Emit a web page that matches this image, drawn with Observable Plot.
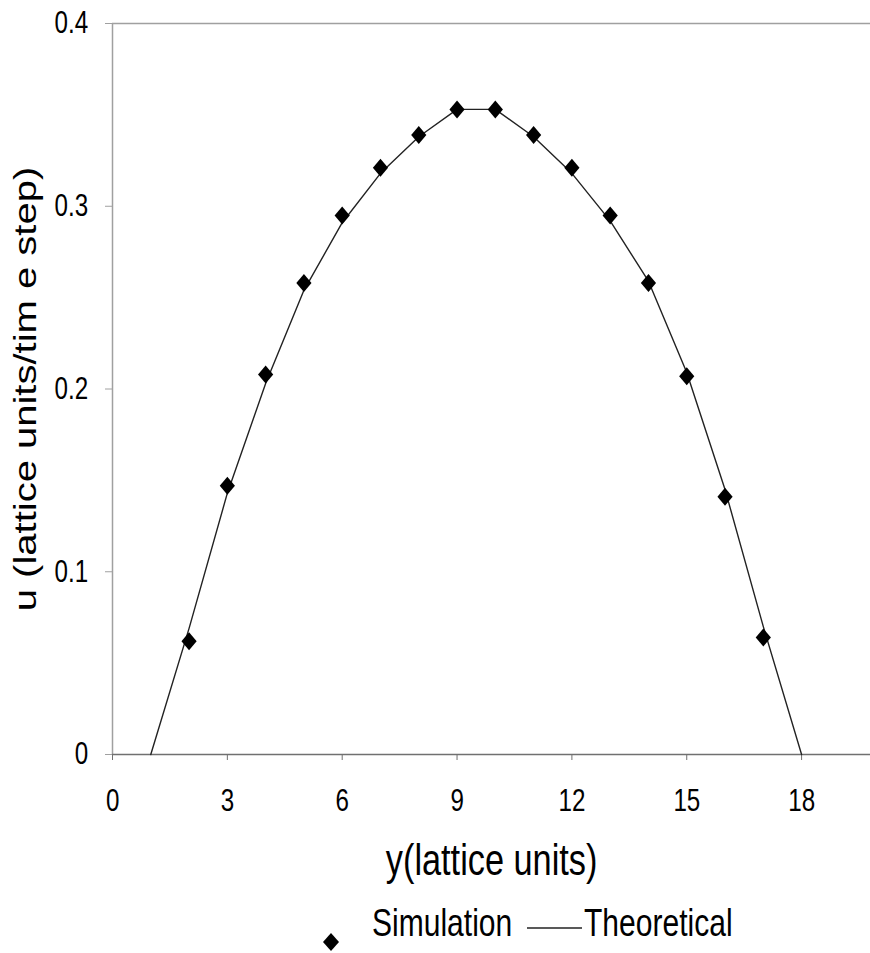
<!DOCTYPE html>
<html>
<head>
<meta charset="utf-8">
<script src="https://cdn.jsdelivr.net/npm/d3@7"></script>
<script src="https://cdn.jsdelivr.net/npm/@observablehq/plot@0.6"></script>
<style>
  html, body { margin: 0; padding: 0; background: #fff; }
  #wrap { position: relative; width: 870px; height: 953px; overflow: hidden; }
  .legend { position: absolute; top: 0; left: 0; width: 870px; height: 953px; pointer-events: none;
    font-family: "Liberation Sans", Arial, sans-serif; font-size: 39px; line-height: 1; color: #000; }
  .legend span { position: absolute; top: 903px; white-space: nowrap; transform: scaleX(0.77); transform-origin: 0 0; }
</style>
</head>
<body>
<div id="wrap"></div>
<script>
// Simulation points (lattice position, velocity)
const simY = [2, 3, 4, 5, 6, 7, 8, 9, 10, 11, 12, 13, 14, 15, 16, 17];
const simU = [0.062, 0.147, 0.208, 0.258, 0.295, 0.321, 0.339, 0.353, 0.353, 0.339, 0.321, 0.295, 0.258, 0.207, 0.141, 0.064];

// Theoretical profile
const theoY = [1, 2, 3, 4, 5, 6, 7, 8, 9, 10, 11, 12, 13, 14, 15, 16, 17, 18];
const theoU = [0, 0.069, 0.143, 0.203, 0.254, 0.291, 0.318, 0.338, 0.353, 0.353, 0.338, 0.318, 0.292, 0.259, 0.209, 0.145, 0.070, 0];

// Axis ticks
const xTicks = [0, 3, 6, 9, 12, 15, 18];
const yTicks = [0, 0.1, 0.2, 0.3, 0.4];
const xDomain = [0, 19.8];
const yDomain = [0, 0.4];

const xTitle = "y(lattice units)";
const yTitle = "u (lattice units/tim e step)";
const legendLabels = ["Simulation", "Theoretical"];

const sim = simY.map((y, i) => ({y, u: simU[i]}));
const theo = theoY.map((y, i) => ({y, u: theoU[i]}));

const font = '"Liberation Sans", Arial, sans-serif';

// diamond slightly taller than wide
const tallDiamond = {
  draw(ctx, size) {
    const k = Math.sqrt(size) / 12.76;
    const w = 7.6 * k, h = 9 * k;
    ctx.moveTo(0, -h); ctx.lineTo(w, 0); ctx.lineTo(0, h); ctx.lineTo(-w, 0); ctx.closePath();
  }
};

const chart = Plot.plot({
  width: 870,
  height: 953,
  marginLeft: 112,
  marginRight: 0,
  marginTop: 23,
  marginBottom: 199,
  style: { fontFamily: font, background: "#fff", color: "#000" },
  x: { domain: xDomain },
  y: { domain: yDomain },
  marks: [
    Plot.ruleY([yDomain[1]], { stroke: "#a0a0a0", strokeWidth: 1.5 }),
    Plot.ruleX([xDomain[0]], { stroke: "#a0a0a0", strokeWidth: 1.5 }),
    Plot.ruleY([yDomain[0]], { stroke: "#707070", strokeWidth: 1.5 }),
    Plot.axisX({ ticks: xTicks, tickSize: 6, tickPadding: 28, fontSize: 31, label: null, stroke: "#707070", tickFormat: d => String(d) }),
    Plot.axisY({ ticks: yTicks, tickSize: 7, tickPadding: 13, fontSize: 31, label: null, stroke: "#a0a0a0", tickFormat: d => d === 0 ? "0" : d.toFixed(1) }),
    Plot.line(theo, { x: "y", y: "u", stroke: "#222", strokeWidth: 1.4 }),
    Plot.dot(sim, { x: "y", y: "u", symbol: tallDiamond, r: 7.2, fill: "#000", stroke: "none" }),
    Plot.text([xTitle], { frameAnchor: "bottom", dy: 120, fontSize: 44, textAnchor: "middle", fill: "#000" }),
    Plot.text([yTitle], { frameAnchor: "left", dx: -71, rotate: -90, fontSize: 40, textAnchor: "middle", fill: "#000" })
  ]
});

const wrap = document.getElementById("wrap");
wrap.appendChild(chart);

// The reference glyphs are horizontally compressed (~0.78): scale every text in screen x about its anchor.
const svgEl = wrap.querySelector("svg");
const svgRect = svgEl.getBoundingClientRect();
const SX = 0.78;
svgEl.querySelectorAll("text").forEach(t => {
  const r = t.getBoundingClientRect();
  const anchor = getComputedStyle(t).textAnchor;
  let ax;
  if (anchor === "end") ax = r.right; else if (anchor === "middle") ax = (r.left + r.right) / 2; else ax = r.left;
  ax -= svgRect.left;
  const g = document.createElementNS("http://www.w3.org/2000/svg", "g");
  g.setAttribute("transform", `translate(${ax},0) scale(${SX},1) translate(${-ax},0)`);
  t.parentNode.insertBefore(g, t);
  g.appendChild(t);
});

const legend = document.createElement("div");
legend.className = "legend";
legend.innerHTML = `
  <svg style="position:absolute;left:321px;top:932px" width="20" height="20"><path d="M10,1 L18,10 L10,19 L2,10 Z" fill="#000"/></svg>
  <span style="left:372px">${legendLabels[0]}</span>
  <svg style="position:absolute;left:527px;top:926px" width="55" height="4"><line x1="0" y1="2" x2="55" y2="2" stroke="#222" stroke-width="1.4"/></svg>
  <span style="left:584px">${legendLabels[1]}</span>`;
wrap.appendChild(legend);
</script>
</body>
</html>
